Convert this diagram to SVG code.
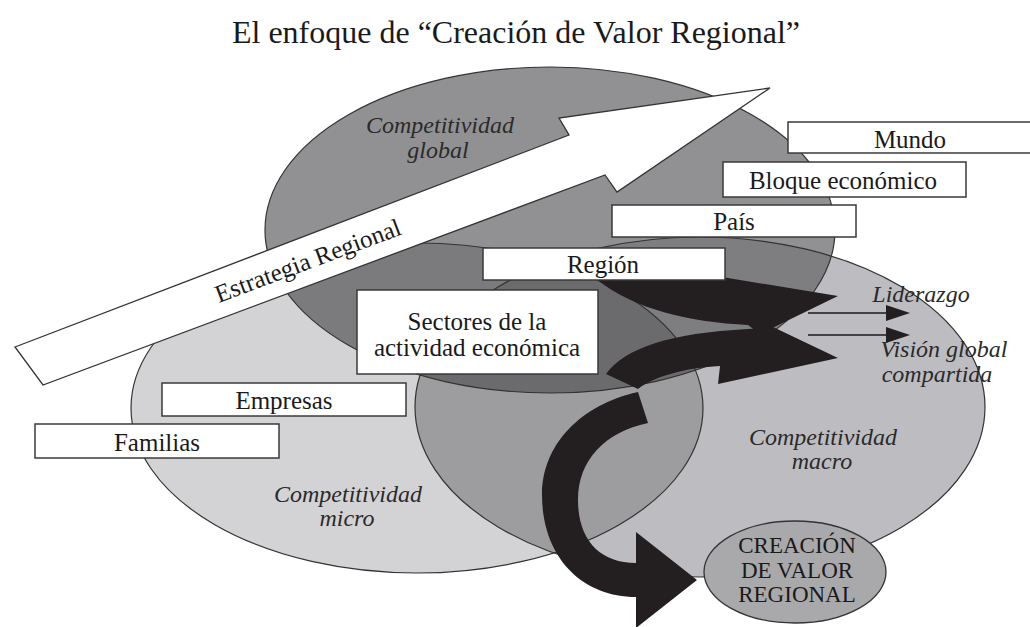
<svg xmlns="http://www.w3.org/2000/svg" width="1030" height="627" viewBox="0 0 1030 627">
<style>
text{font-family:'Liberation Serif','Times New Roman',serif}
.lbl{font-size:25px;fill:#1a1a1a;text-anchor:middle}
.it{font-size:24px;font-style:italic;fill:#2a2a2a;text-anchor:middle}
.cv{font-size:23px;fill:#1a1a1a;text-anchor:middle}
.box{fill:#fff;stroke:#3a3a3a;stroke-width:1.5}
.edge{fill:none;stroke:#333;stroke-width:1.2}
.blk{fill:#231f20}
</style>
<defs>
<clipPath id="cTop"><ellipse cx="550" cy="230" rx="285" ry="163"/></clipPath>
<clipPath id="cMicro"><ellipse cx="417" cy="408" rx="286" ry="165"/></clipPath>
</defs>
<rect width="1030" height="627" fill="#fff"/>
<text x="516" y="43" font-family="Liberation Serif, serif" font-size="32" fill="#1a1a1a" text-anchor="middle">El enfoque de “Creación de Valor Regional”</text>

<g id="ellipses">
<ellipse cx="417" cy="408" rx="286" ry="165" fill="#d3d3d5"/>
<ellipse cx="700" cy="407" rx="285" ry="170" fill="#bdbdc1"/>
<ellipse cx="550" cy="230" rx="285" ry="163" fill="#919194"/>
<ellipse cx="700" cy="407" rx="285" ry="170" fill="#9d9da0" clip-path="url(#cMicro)"/>
<ellipse cx="417" cy="408" rx="286" ry="165" fill="#7b7b7e" clip-path="url(#cTop)"/>
<ellipse cx="700" cy="407" rx="285" ry="170" fill="#7e7e81" clip-path="url(#cTop)"/>
<g clip-path="url(#cTop)"><ellipse cx="700" cy="407" rx="285" ry="170" fill="#6b6b6e" clip-path="url(#cMicro)"/></g>
<ellipse class="edge" cx="417" cy="408" rx="286" ry="165"/>
<ellipse class="edge" cx="700" cy="407" rx="285" ry="170"/>
<ellipse class="edge" cx="550" cy="230" rx="285" ry="163"/>
</g>

<g id="estrategia">
<polygon points="15,347 569,135 559,118 770,88 617,192 605,175 43,385" fill="#fff" stroke="#333" stroke-width="1.3"/>
<text class="lbl" font-family="Liberation Serif, serif" transform="translate(308,261) rotate(-20.5)" x="0" y="8">Estrategia Regional</text>
</g>

<g id="connectors">
<path class="blk" d="M585,262 L722,262 L722,277 L838,296 L760,334 L748,325 C690,322 635,310 596,279 Z"/>
<path class="blk" d="M606,374 C625,348 670,333 748,329 L773,327 L838,358 L718,384 L720,366 C685,368 655,376 638,389 Z"/>
<path class="blk" d="M638,392 C580,405 542,445 542,495 C542,555 580,597 636,597 L636,628 L697,580 L636,532 L636,563 C600,563 578,540 578,500 C578,460 605,432 648,423 Z"/>
<g stroke="#1a1a1a" stroke-width="1.5">
<line x1="808" y1="313" x2="890" y2="313"/>
<line x1="808" y1="335" x2="890" y2="335"/>
</g>
<polygon class="blk" points="886,305 910,313 886,321"/>
<polygon class="blk" points="886,327 910,335 886,343"/>
</g>

<g id="mundo"><rect class="box" x="788" y="122" width="245" height="31"/><text class="lbl" font-family="Liberation Serif, serif" x="910" y="148">Mundo</text></g>
<g id="bloque"><rect class="box" x="723" y="162" width="243" height="35"/><text class="lbl" font-family="Liberation Serif, serif" x="843" y="189">Bloque económico</text></g>
<g id="pais"><rect class="box" x="612" y="205" width="244" height="32"/><text class="lbl" font-family="Liberation Serif, serif" x="734" y="230">País</text></g>
<g id="region"><rect class="box" x="483" y="248" width="242" height="32"/><text class="lbl" font-family="Liberation Serif, serif" x="603" y="273">Región</text></g>
<g id="sectores"><rect class="box" x="357" y="290" width="241" height="84"/><text class="lbl" font-family="Liberation Serif, serif" x="477" y="330">Sectores de la</text><text class="lbl" font-family="Liberation Serif, serif" x="477" y="356">actividad económica</text></g>
<g id="empresas"><rect class="box" x="162" y="383" width="244" height="33"/><text class="lbl" font-family="Liberation Serif, serif" x="284" y="409">Empresas</text></g>
<g id="familias"><rect class="box" x="35" y="424" width="244" height="34"/><text class="lbl" font-family="Liberation Serif, serif" x="157" y="451">Familias</text></g>

<g id="global" font-family="Liberation Serif, serif"><text class="it" x="440" y="133">Competitividad</text><text class="it" x="438" y="158">global</text></g>
<g id="micro" font-family="Liberation Serif, serif"><text class="it" x="348" y="502">Competitividad</text><text class="it" x="347" y="526">micro</text></g>
<g id="macro" font-family="Liberation Serif, serif"><text class="it" x="823" y="445">Competitividad</text><text class="it" x="822" y="469">macro</text></g>
<g id="liderazgo" font-family="Liberation Serif, serif"><text class="it" x="921" y="302">Liderazgo</text></g>
<g id="vision" font-family="Liberation Serif, serif"><text class="it" x="944" y="357">Visión global</text><text class="it" x="937" y="382">compartida</text></g>

<g id="creacion" font-family="Liberation Serif, serif">
<ellipse cx="795" cy="572" rx="91" ry="51" fill="#a9a9ac" stroke="#333" stroke-width="1.3"/>
<text class="cv" x="797" y="553">CREACIÓN</text>
<text class="cv" x="797" y="578">DE VALOR</text>
<text class="cv" x="797" y="602">REGIONAL</text>
</g>
</svg>
